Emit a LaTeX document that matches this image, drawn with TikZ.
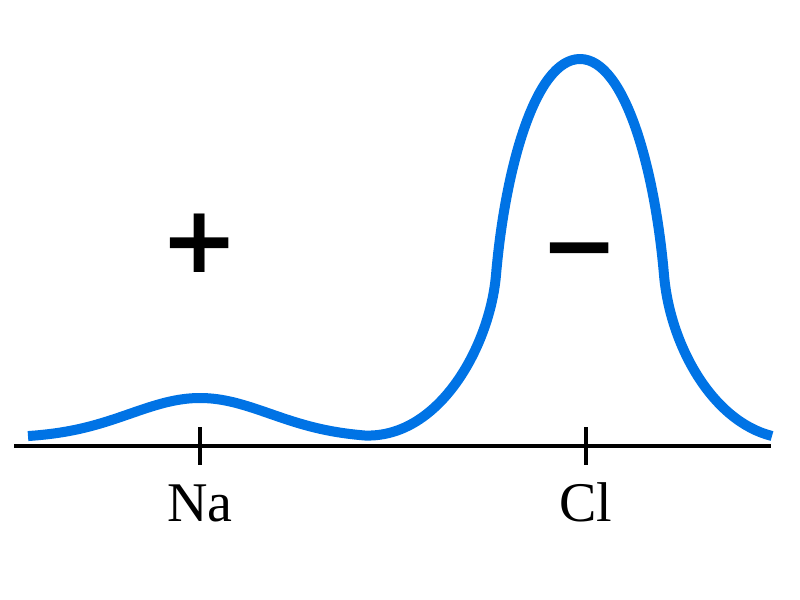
\documentclass[tikz,border=0pt]{standalone}
\usepackage{fontspec}
\setmainfont{Liberation Serif}
\newfontfamily\signfont{DejaVu Sans}
\definecolor{curveblue}{RGB}{0,115,229}
\begin{document}
\begin{tikzpicture}[x=0.75pt,y=-0.75pt,
  density/.style={draw=curveblue,line width=7.5pt,line cap=butt,line join=round},
  axisline/.style={draw=black,line width=2.4pt},
  tickmark/.style={draw=black,line width=3.6pt},
  atomlabel/.style={font=\fontsize{42pt}{42pt}\selectfont,inner sep=0pt,anchor=base},
  chargesign/.style={font=\signfont\bfseries\fontsize{70pt}{70pt}\selectfont,inner sep=0pt,anchor=base}]
\useasboundingbox (0,0) rectangle (800,600);
% axis
\coordinate (axL) at (14,446);
\coordinate (axR) at (771,446);
\draw[axisline] (axL) -- (axR);
% ticks
\coordinate (naT) at (200,427);
\coordinate (naB) at (200,465);
\coordinate (clT) at (586,427);
\coordinate (clB) at (586,465);
\draw[tickmark] (naT) -- (naB);
\draw[tickmark] (clT) -- (clB);
% labels
\node[atomlabel] (na) at (200,521) {Na};
\node[atomlabel] (cl) at (586,521) {Cl};
% charges
\node[chargesign] (plus) at (200,272) {+};
\node[chargesign] (minus) at (580,277) {−};
% density curve
\draw[density]
  plot[domain=28:365,samples=90,variable=\x] (\x,{438-40*exp(-((\x-200)/70)^2/2)})
  .. controls (440,438) and (490,345) .. (496,275)
  .. controls (505,170) and (535,59) .. (580,59)
  .. controls (625,59) and (655,170) .. (664,275)
  .. controls (670,345) and (712,421) .. (772,436);
\end{tikzpicture}
\end{document}
